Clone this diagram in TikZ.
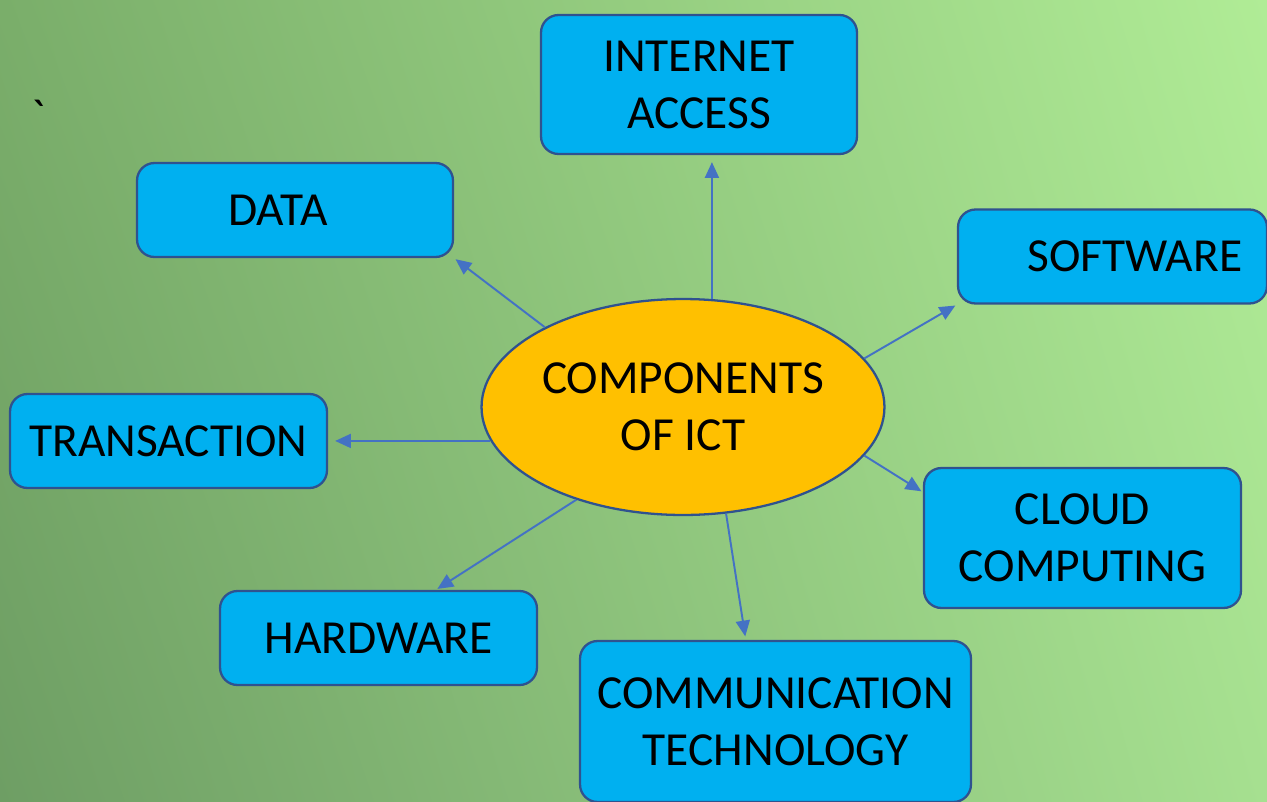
\documentclass[tikz,border=0pt]{standalone}
\usepackage{fontspec}
\setmainfont{Carlito}
\usetikzlibrary{arrows.meta}
\usetikzlibrary{shapes.geometric}
\usetikzlibrary{shadings}

\definecolor{boxfill}{HTML}{00B0F0}
\definecolor{boxline}{HTML}{2F528F}
\definecolor{hubfill}{HTML}{FFC000}
\definecolor{arrowblue}{HTML}{4472C4}

\begin{document}
\begin{tikzpicture}[x=0.02cm, y=-0.02cm]
  \tikzstyle{comp}=[rectangle, rounded corners=0.35cm, draw=boxline, line width=1.3pt, fill=boxfill, inner sep=0pt, align=center, font=\fontsize{27}{32.5}\selectfont, minimum height=1.88cm]
  \tikzstyle{core}=[ellipse, draw=boxline, line width=1.3pt, fill=hubfill, inner sep=0pt, align=center, font=\fontsize{27}{32.5}\selectfont, minimum width=8.06cm, minimum height=4.32cm]
  \tikzstyle{link}=[draw=arrowblue, line width=1.1pt, -{Triangle[length=9pt,width=8pt]}]
  \useasboundingbox (0,0) rectangle (1267,801);
  \shade[upper left={rgb,255:red,122;green,174;blue,106}, upper right={rgb,255:red,176;green,236;blue,150}, lower left={rgb,255:red,110;green,158;blue,100}, lower right={rgb,255:red,166;green,224;blue,144}] (0,801) rectangle (1267,0);
  \node at (38,116) (tick) {\fontsize{27}{31}\selectfont\textasciigrave};
  \node [core] at (683,407) (ict) {COMPONENTS\\OF ICT};
  \node [comp, minimum width=6.32cm, minimum height=2.78cm] at (699,84.5) (inet) {INTERNET\\ACCESS};
  \node [comp, minimum width=6.32cm] at (295,210) (data) {\hspace*{-0.68cm}DATA};
  \node [comp, minimum width=6.18cm] at (1112.5,256.5) (soft) {\hspace*{0.9cm}SOFTWARE};
  \node [comp, minimum width=6.34cm] at (168.5,441) (trans) {TRANSACTION};
  \node [comp, minimum width=6.34cm, minimum height=2.8cm] at (1082.5,538) (cloud) {CLOUD\\COMPUTING};
  \node [comp, minimum width=6.34cm] at (378.5,638) (hard) {HARDWARE};
  \node [comp, minimum width=7.82cm, minimum height=3.22cm] at (775.5,721.5) (comm) {COMMUNICATION\\TECHNOLOGY};
  \draw[link, shorten >=1pt] (ict.150) -- (data.south east);
  \draw[link, shorten >=4pt] (ict.75) -- (ict.75 |- inet.south);
  \draw[link, shorten >=1pt] (ict.15) -- (soft.south west);
  \draw[link, shorten >=4pt] (ict.190) -- (ict.190 -| trans.east);
  \draw[link, shorten >=1pt] (ict.-15) -- (cloud.164);
  \draw[link, shorten >=1pt] (ict.221) -- (hard.40);
  \draw[link, shorten >=2pt] (ict.-68) -- (comm.110);
\end{tikzpicture}
\end{document}
